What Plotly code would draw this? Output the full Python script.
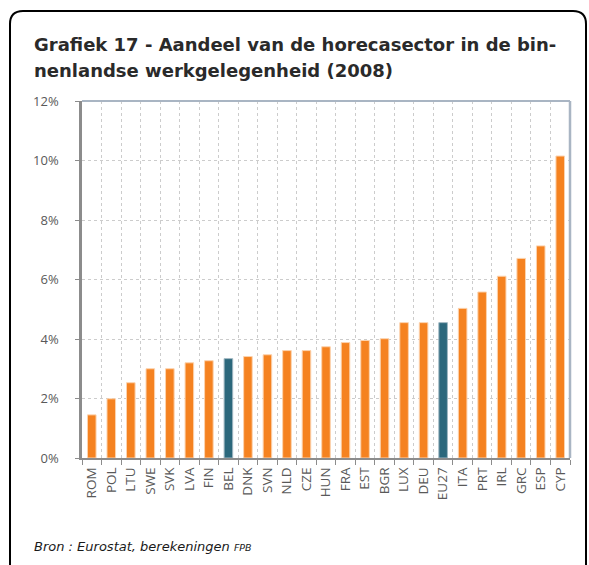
import plotly.graph_objects as go

countries = ["ROM", "POL", "LTU", "SWE", "SVK", "LVA", "FIN", "BEL", "DNK", "SVN",
             "NLD", "CZE", "HUN", "FRA", "EST", "BGR", "LUX", "DEU", "EU27", "ITA",
             "PRT", "IRL", "GRC", "ESP", "CYP"]
share_pct = [1.45, 1.99, 2.53, 3.00, 3.00, 3.20, 3.27, 3.34, 3.41, 3.47,
             3.61, 3.61, 3.74, 3.88, 3.95, 4.01, 4.55, 4.55, 4.55, 5.03,
             5.58, 6.11, 6.71, 7.13, 10.15]
highlight = ["BEL", "EU27"]
y_ticks = [0, 2, 4, 6, 8, 10, 12]
y_tick_labels = [f"{v}%" for v in y_ticks]

ORANGE = "#F58220"
TEAL = "#2C687C"

colors = [TEAL if c in highlight else ORANGE for c in countries]
edge = ["#9fb7c2" if c in highlight else "#fcd3ae" for c in countries]

W, H = 589, 565
L, R, T, B = 82, 19, 101, 107
pw, ph = W - L - R, H - T - B

fig = go.Figure()
fig.add_trace(go.Bar(
    x=countries, y=share_pct,
    marker=dict(color=colors, line=dict(color=edge, width=1)),
    width=0.44,
))

def px_to_paper_x(px):
    return (px - L) / pw

def px_to_paper_y(py):
    return (H - B - py) / ph

# rounded frame
x0, x1 = px_to_paper_x(10), px_to_paper_x(586)
y0, y1 = px_to_paper_y(575), px_to_paper_y(11)
rx, ry = 13 / pw, 13 / ph
path = (f"M {x0},{y0} L {x0},{y1-ry} Q {x0},{y1} {x0+rx},{y1} "
        f"L {x1-rx},{y1} Q {x1},{y1} {x1},{y1-ry} L {x1},{y0}")
fig.add_shape(type="path", path=path, xref="paper", yref="paper",
              line=dict(color="black", width=2), layer="above")

# top and right plot borders
fig.add_shape(type="line", xref="paper", yref="paper", x0=0, x1=1, y0=1, y1=1,
              line=dict(color="#a9b5c3", width=2))
fig.add_shape(type="line", xref="paper", yref="paper", x0=1, x1=1, y0=0, y1=1,
              line=dict(color="#a9b5c3", width=2.5))

title_font = dict(family="DejaVu Sans", size=18, color="#2a2a2a")
fig.add_annotation(text="<b>Grafiek 17 - Aandeel van de horecasector in de bin-</b>",
                   xref="paper", yref="paper", x=px_to_paper_x(32), y=px_to_paper_y(45),
                   xanchor="left", yanchor="middle", showarrow=False, font=title_font)
fig.add_annotation(text="<b>nenlandse werkgelegenheid (2008)</b>",
                   xref="paper", yref="paper", x=px_to_paper_x(32), y=px_to_paper_y(70),
                   xanchor="left", yanchor="middle", showarrow=False, font=title_font)
fig.add_annotation(text="<i>Bron : Eurostat, berekeningen <span style='font-size:9.5px'>FPB</span></i>",
                   xref="paper", yref="paper", x=px_to_paper_x(32), y=px_to_paper_y(546),
                   xanchor="left", yanchor="middle", showarrow=False,
                   font=dict(family="DejaVu Sans", size=13, color="#1a1a1a"))

fig.update_layout(
    width=W, height=H,
    margin=dict(l=L, r=R, t=T, b=B, pad=0),
    paper_bgcolor="white", plot_bgcolor="white",
    showlegend=False,
    font=dict(family="Open Sans", size=12, color="#595959"),
)
fig.update_xaxes(
    type="category", tickson="boundaries", tickangle=-90,
    showgrid=True, gridcolor="#cccccc", griddash="dot", gridwidth=1,
    showline=True, linecolor="#8c8c8c", linewidth=2,
    ticks="outside", ticklen=5, tickcolor="#8c8c8c", tickwidth=1,
    ticklabelstandoff=2,
    tickfont=dict(family="Open Sans", size=13.5, color="#595959"),
)
fig.update_yaxes(
    range=[0, 12], tickmode="array", tickvals=y_ticks, ticktext=y_tick_labels,
    showgrid=True, gridcolor="#cccccc", griddash="dot", gridwidth=1,
    showline=True, linecolor="#8c8c8c", linewidth=2.5,
    ticks="outside", ticklen=4, tickcolor="#8c8c8c",
    ticklabelstandoff=14,
    tickfont=dict(family="Open Sans", size=13, color="#595959"),
    zeroline=False,
)

fig.write_html("out.html", config={"displayModeBar": False},
               post_script="document.body.style.margin='0';document.body.style.overflow='hidden';")
